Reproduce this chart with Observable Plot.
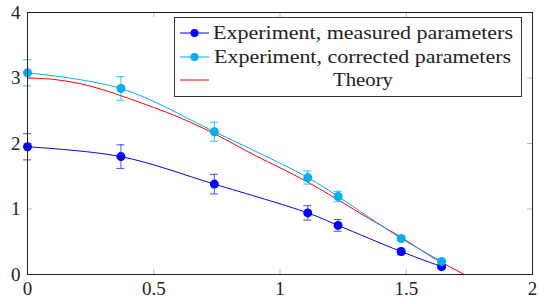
<!DOCTYPE html>
<html>
<head>
<meta charset="utf-8">
<script src="https://cdn.jsdelivr.net/npm/d3@7"></script>
<script src="https://cdn.jsdelivr.net/npm/@observablehq/plot@0.6"></script>
<style>
  html, body { margin: 0; padding: 0; background: #fff; }
</style>
</head>
<body>
<div id="chart"></div>
<script>
// ---- data ----
const xs = [0, 0.37, 0.74, 1.11, 1.23, 1.48, 1.64];
const measured = [1.95, 1.80, 1.38, 0.94, 0.75, 0.35, 0.12];
const measuredErr = [0.20, 0.18, 0.15, 0.11, 0.09, 0.05, 0.03];
const corrected = [3.08, 2.84, 2.18, 1.48, 1.19, 0.55, 0.20];
const correctedErr = [0.20, 0.18, 0.145, 0.10, 0.08, 0.03, 0.02];
const theoryX = [0, 0.1, 0.2, 0.3, 0.37, 0.5, 0.6, 0.74, 0.9, 1.0, 1.11, 1.23, 1.35, 1.48, 1.6, 1.73, 1.8];
const theoryY = [3.00, 2.98, 2.92, 2.82, 2.73, 2.55, 2.40, 2.15, 1.82, 1.63, 1.41, 1.14, 0.86, 0.57, 0.27, 0.0, -0.16];
const xTicks = [0, 0.5, 1, 1.5, 2];
const yTicks = [0, 1, 2, 3, 4];
const seriesNames = ["Experiment, measured parameters", "Experiment, corrected parameters", "Theory"];

const blue = "#0000ff", cyan = "#00aeef", red = "#ff0000";

const meas = xs.map((x, i) => ({x, y: measured[i], e: measuredErr[i]}));
const corr = xs.map((x, i) => ({x, y: corrected[i], e: correctedErr[i]}));
const theory = theoryX.map((x, i) => ({x, y: theoryY[i]}));

const W = 546, H = 304, mL = 27, mR = 14, mT = 12, mB = 30;
const innerH = H - mT - mB, innerW = W - mL - mR;
const font = "'Liberation Serif', serif";

function errorBars(data, color, op) {
  return [
    Plot.ruleX(data, {x: "x", y1: d => d.y - d.e, y2: d => d.y + d.e, stroke: color, strokeOpacity: op}),
    Plot.ruleY(data, {y: d => d.y - d.e, x1: "x", x2: "x", insetLeft: -4, insetRight: -4, stroke: color, strokeOpacity: op}),
    Plot.ruleY(data, {y: d => d.y + d.e, x1: "x", x2: "x", insetLeft: -4, insetRight: -4, stroke: color, strokeOpacity: op}),
  ];
}

const chart = Plot.plot({
  width: W, height: H,
  marginLeft: mL, marginRight: mR, marginTop: mT, marginBottom: mB,
  style: {fontFamily: font, fontSize: "18px", background: "#fff", color: "#222"},
  x: {type: "linear", domain: [0, 2], label: null},
  y: {type: "linear", domain: [0, 4], label: null},
  marks: [
    // inner ticks
    Plot.ruleX(xTicks.slice(1, -1), {x: d => d, stroke: "#bbb", insetTop: innerH - 5}),
    Plot.ruleX(xTicks.slice(1, -1), {x: d => d, stroke: "#bbb", insetBottom: innerH - 5}),
    Plot.ruleY(yTicks.slice(1, -1), {y: d => d, stroke: "#bbb", insetRight: innerW - 5}),
    Plot.ruleY(yTicks.slice(1, -1), {y: d => d, stroke: "#bbb", insetLeft: innerW - 5}),
    Plot.axisX({ticks: xTicks, tickSize: 0, tickPadding: 7, tickFormat: d => String(d), label: null, fontFamily: font, fontSize: 19}),
    Plot.axisY({ticks: yTicks, tickSize: 0, tickPadding: 7, tickFormat: d => String(d), label: null, fontFamily: font, fontSize: 19}),
    // theory
    Plot.line(theory, {x: "x", y: "y", stroke: red, strokeWidth: 1, curve: "catmull-rom", clip: "frame"}),
    // measured
    Plot.line(meas, {x: "x", y: "y", stroke: blue, strokeWidth: 1, curve: "catmull-rom"}),
    ...errorBars(meas, blue, 0.7),
    Plot.dot(meas, {x: "x", y: "y", r: 4.5, fill: blue, stroke: null}),
    // corrected
    Plot.line(corr, {x: "x", y: "y", stroke: cyan, strokeWidth: 1, curve: "catmull-rom"}),
    ...errorBars(corr, cyan, 0.8),
    Plot.dot(corr, {x: "x", y: "y", r: 4.5, fill: cyan, stroke: null}),
    Plot.frame({stroke: "#222", strokeWidth: 1})
  ]
});
document.getElementById("chart").appendChild(chart);

// legend
const svg = d3.select(chart);
const lg = svg.append("g").style("font-family", font).style("font-size", "19px");
lg.append("rect").attr("x", 174.5).attr("y", 17.5).attr("width", 347).attr("height", 79)
  .attr("fill", "#fff").attr("stroke", "#333").attr("stroke-width", 1);
const rows = [
  {name: seriesNames[0], color: blue, dot: true, y: 33, x: 213, len: 300, anchor: "start"},
  {name: seriesNames[1], color: cyan, dot: true, y: 57, x: 214, len: 297, anchor: "start"},
  {name: seriesNames[2], color: red, dot: false, y: 80, x: 363, len: 60, anchor: "middle"},
];
rows.forEach(r => {
  lg.append("line").attr("x1", 180).attr("x2", 209).attr("y1", r.y).attr("y2", r.y)
    .attr("stroke", r.color).attr("stroke-width", 1);
  if (r.dot) lg.append("circle").attr("cx", 194.5).attr("cy", r.y).attr("r", 4).attr("fill", r.color);
  lg.append("text").attr("x", r.x).attr("y", r.y).attr("dy", "0.33em")
    .attr("text-anchor", r.anchor).attr("fill", "#222")
    .style("font-family", font)
    .attr("textLength", r.len).attr("lengthAdjust", "spacingAndGlyphs")
    .text(r.name);
});
</script>
</body>
</html>
